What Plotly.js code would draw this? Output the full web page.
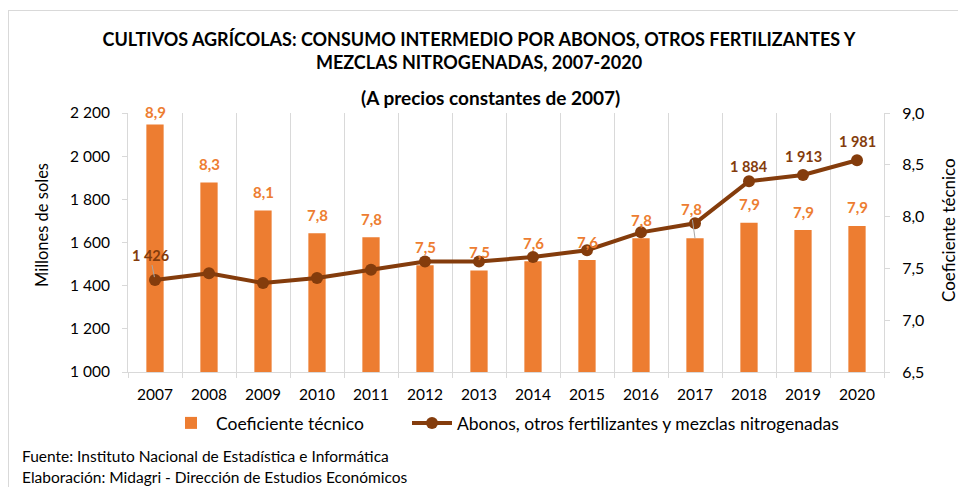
<!DOCTYPE html>
<html>
<head>
<meta charset="utf-8">
<script src="https://cdn.plot.ly/plotly-3.0.1.min.js"></script>
<style>
  html, body { margin: 0; padding: 0; background: #fff; }
  #wrap { position: relative; width: 958px; height: 487px; overflow: hidden; }
  #chart { width: 958px; height: 487px; }
  #frame { position: absolute; left: 8px; top: 10px; width: 1000px; height: 600px;
           border: 1px solid #D9D9D9; pointer-events: none; }
</style>
</head>
<body>
<div id="wrap"><div id="chart"></div><div id="frame"></div></div>
<script>
const years = ['2007','2008','2009','2010','2011','2012','2013','2014','2015','2016','2017','2018','2019','2020'];
const coeficiente = [8.89, 8.33, 8.06, 7.84, 7.80, 7.53, 7.48, 7.57, 7.58, 7.79, 7.79, 7.94, 7.87, 7.91];
const abonos = [1426, 1457, 1412, 1436, 1474, 1512, 1512, 1533, 1564, 1647, 1689, 1884, 1913, 1981];
const labeledYears = ['2007', '2018', '2019', '2020'];

const FONT = 'Lato, "Open Sans", sans-serif';
const ORANGE = '#ED7D31';
const BROWN = '#843C0C';
const GRID = '#D9D9D9';
const LEADER = '#A6A6A6';

function fmtThousands(v) {
  return Math.round(v).toString().replace(/\B(?=(\d{3})+(?!\d))/g, ' ');
}
function fmtDecimal(v) {
  return v.toFixed(1).replace('.', ',');
}

const traces = [
  {
    type: 'bar', name: 'Coeficiente técnico',
    x: years, y: coeficiente, yaxis: 'y', legend: 'legend',
    marker: { color: ORANGE },
    hoverinfo: 'skip'
  },
  {
    type: 'scatter', mode: 'lines+markers',
    name: 'Abonos, otros fertilizantes y mezclas nitrogenadas',
    x: years, y: abonos, yaxis: 'y2', legend: 'legend2',
    line: { color: BROWN, width: 4 },
    marker: { color: BROWN, size: 12 },
    cliponaxis: false, hoverinfo: 'skip'
  }
];

// label placement (style only)
const barLabelLeader = { '2017': { ax: -4, ay: -29 } };
const barLabelShift = { '2007': 12 };
const lineLabelLeader = { '2007': { ax: -5, ay: -25 } };
const lineLabelShift = { '2018': 15 };

const annotations = [];
years.forEach((yr, i) => {
  const txt = fmtDecimal(coeficiente[i]);
  const font = { family: FONT, size: 15, color: ORANGE, weight: 'bold' };
  if (barLabelLeader[yr]) {
    annotations.push({ x: i, y: coeficiente[i], xref: 'x', yref: 'y', text: txt, font,
      showarrow: true, arrowhead: 0, arrowwidth: 1, arrowcolor: LEADER,
      ax: barLabelLeader[yr].ax, ay: barLabelLeader[yr].ay, standoff: 0 });
  } else {
    annotations.push({ x: i, y: coeficiente[i], xref: 'x', yref: 'y', text: txt, font,
      showarrow: false, yanchor: 'middle', yshift: barLabelShift[yr] || 18.5 });
  }
});
years.forEach((yr, i) => {
  if (!labeledYears.includes(yr)) return;
  const txt = fmtThousands(abonos[i]);
  const font = { family: FONT, size: 14.5, color: BROWN, weight: 'bold' };
  if (lineLabelLeader[yr]) {
    annotations.push({ x: i, y: abonos[i], xref: 'x', yref: 'y2', text: txt, font,
      showarrow: true, arrowhead: 0, arrowwidth: 1, arrowcolor: LEADER,
      ax: lineLabelLeader[yr].ax, ay: lineLabelLeader[yr].ay, standoff: 3 });
  } else {
    annotations.push({ x: i, y: abonos[i], xref: 'x', yref: 'y2', text: txt, font,
      showarrow: false, yanchor: 'middle', yshift: lineLabelShift[yr] || 18.5 });
  }
});

annotations.push(
  { text: '(A precios constantes de 2007)', xref: 'paper', yref: 'paper',
    x: (490 - 128) / 756, y: (372 - 98) / 259, xanchor: 'center', yanchor: 'middle',
    showarrow: false, font: { family: FONT, size: 19, color: '#000', weight: 'bold' } },
  { text: 'Millones de soles', xref: 'paper', yref: 'paper',
    x: (42 - 128) / 756, y: (372 - 225) / 259, textangle: -90,
    xanchor: 'center', yanchor: 'middle', showarrow: false,
    font: { family: FONT, size: 16.5, color: '#000' } },
  { text: 'Coeficiente técnico', xref: 'paper', yref: 'paper',
    x: (948 - 128) / 756, y: (372 - 230) / 259, textangle: -90,
    xanchor: 'center', yanchor: 'middle', showarrow: false,
    font: { family: FONT, size: 17, color: '#000' } },
  { text: 'Fuente: Instituto Nacional de Estadística e Informática', xref: 'paper', yref: 'paper',
    x: (20 - 128) / 756, y: (372 - 456) / 259, xanchor: 'left', yanchor: 'middle',
    showarrow: false, font: { family: FONT, size: 15.5, color: '#000' } },
  { text: 'Elaboración: Midagri - Dirección de Estudios Económicos', xref: 'paper', yref: 'paper',
    x: (20 - 128) / 756, y: (372 - 477) / 259, xanchor: 'left', yanchor: 'middle',
    showarrow: false, font: { family: FONT, size: 15.5, color: '#000' } }
);

const legendStyle = {
  orientation: 'h', xanchor: 'left', y: -0.197, yanchor: 'middle',
  font: { family: FONT, size: 17.5, color: '#000' },
  itemwidth: 40, bgcolor: 'rgba(0,0,0,0)'
};

const layout = {
  width: 958, height: 487,
  margin: { l: 128, r: 74, t: 113, b: 115 },
  paper_bgcolor: '#fff', plot_bgcolor: '#fff',
  separators: ', ',
  font: { family: FONT, size: 15, color: '#000' },
  bargap: 0.68,
  showlegend: true,
  title: {
    text: 'CULTIVOS AGRÍCOLAS: CONSUMO INTERMEDIO POR ABONOS, OTROS FERTILIZANTES Y<br>MEZCLAS NITROGENADAS, 2007-2020',
    font: { family: FONT, size: 18, color: '#000', weight: 'bold' },
    x: 0.5, xref: 'container', xanchor: 'center',
    y: 1 - 46 / 487, yref: 'container', yanchor: 'middle'
  },
  xaxis: {
    type: 'category', range: [-0.5, years.length - 0.5], autorange: false,
    showgrid: true, gridcolor: GRID, gridwidth: 1,
    tickson: 'boundaries', ticks: 'outside', ticklen: 5, tickcolor: GRID,
    showline: true, linecolor: GRID, linewidth: 1,
    ticklabelstandoff: 8,
    tickfont: { family: FONT, size: 15.5, color: '#000' },
    fixedrange: true
  },
  yaxis: {
    side: 'right', range: [6.5, 9.0], autorange: false, dtick: 0.5, tickformat: '.1f',
    showgrid: false, zeroline: false,
    ticks: 'outside', ticklen: 5, tickcolor: GRID,
    showline: true, linecolor: GRID, linewidth: 1,
    ticklabelstandoff: 9,
    tickfont: { family: FONT, size: 16, color: '#000' },
    fixedrange: true
  },
  yaxis2: {
    overlaying: 'y', side: 'left', range: [1000, 2200], autorange: false, dtick: 200, tickformat: ',d',
    showgrid: false, zeroline: false,
    ticks: 'outside', ticklen: 5, tickcolor: GRID,
    showline: true, linecolor: GRID, linewidth: 1,
    ticklabelstandoff: 9,
    tickfont: { family: FONT, size: 15.5, color: '#000' },
    fixedrange: true
  },
  legend: Object.assign({}, legendStyle, { x: (166 - 128) / 756 }),
  legend2: Object.assign({}, legendStyle, { x: (407 - 128) / 756 }),
  annotations: annotations
};

Plotly.newPlot('chart', traces, layout, { displayModeBar: false, staticPlot: true });
</script>
</body>
</html>
